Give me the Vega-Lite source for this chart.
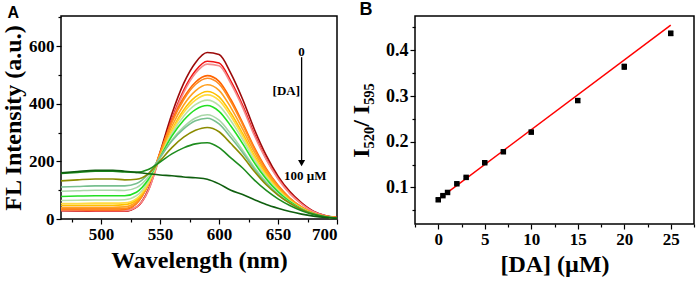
{
  "$schema": "https://vega.github.io/schema/vega-lite/v6.json",
  "padding": {"left": 0, "top": 0, "right": 0, "bottom": 0},
  "background": "white",
  "spacing": 9,
  "config": {
    "view": {"stroke": "black", "strokeWidth": 1.5},
    "text": {"font": "Liberation Serif"},
    "axis": {
      "domain": false, "grid": false,
      "labelFont": "Liberation Serif", "labelFontWeight": "bold", "labelFontSize": 17, "labelColor": "black",
      "tickColor": "black", "tickSize": 5, "tickWidth": 1.2, "labelPadding": 2,
      "titleFont": "Liberation Serif", "titleFontWeight": "bold", "titleFontSize": 24, "titleColor": "black"
    }
  },
  "datasets": {
    "spec": [
      {"w":465,"c1":29,"c2":30,"c3":30,"c4":32,"c5":35,"c6":41,"c7":48,"c8":54,"c9":64,"c10":78,"c11":96,"c12":111,"c13":132,"c14":158,"c15":160},
      {"w":480,"c1":28,"c2":29,"c3":30,"c4":32,"c5":35,"c6":41,"c7":48,"c8":54,"c9":65,"c10":80,"c11":98,"c12":113,"c13":136,"c14":162,"c15":165},
      {"w":495,"c1":27,"c2":28,"c3":29,"c4":31,"c5":35,"c6":41,"c7":48,"c8":55,"c9":66,"c10":81,"c11":100,"c12":115,"c13":139,"c14":166,"c15":169},
      {"w":510,"c1":27,"c2":28,"c3":29,"c4":31,"c5":35,"c6":41,"c7":48,"c8":55,"c9":66,"c10":81,"c11":100,"c12":115,"c13":139,"c14":166,"c15":169},
      {"w":520,"c1":27,"c2":28,"c3":29,"c4":33,"c5":36,"c6":42,"c7":50,"c8":56,"c9":67,"c10":81,"c11":99,"c12":115,"c13":136,"c14":163,"c15":166},
      {"w":530,"c1":41,"c2":41,"c3":42,"c4":53,"c5":55,"c6":60,"c7":66,"c8":71,"c9":81,"c10":93,"c11":109,"c12":123,"c13":138,"c14":162,"c15":162},
      {"w":540,"c1":102,"c2":99,"c3":98,"c4":119,"c5":120,"c6":120,"c7":122,"c8":124,"c9":130,"c10":137,"c11":146,"c12":156,"c13":157,"c14":172,"c15":157},
      {"w":550,"c1":232,"c2":222,"c3":219,"c4":231,"c5":229,"c6":223,"c7":217,"c8":216,"c9":214,"c10":214,"c11":211,"c12":215,"c13":202,"c14":198,"c15":153},
      {"w":560,"c1":365,"c2":347,"c3":341,"c4":339,"c5":335,"c6":322,"c7":309,"c8":304,"c9":296,"c10":288,"c11":274,"c12":271,"c13":248,"c14":226,"c15":150},
      {"w":570,"c1":471,"c2":447,"c3":439,"c4":421,"c5":414,"c6":396,"c7":379,"c8":370,"c9":357,"c10":343,"c11":320,"c12":313,"c13":284,"c14":247,"c15":146},
      {"w":580,"c1":543,"c2":515,"c3":506,"c4":475,"c5":467,"c6":445,"c7":424,"c8":413,"c9":397,"c10":380,"c11":351,"c12":341,"c13":308,"c14":261,"c15":143},
      {"w":590,"c1":578,"c2":548,"c3":538,"c4":498,"c5":489,"c6":466,"c7":443,"c8":431,"c9":413,"c10":394,"c11":362,"c12":350,"c13":318,"c14":265,"c15":138},
      {"w":600,"c1":571,"c2":542,"c3":532,"c4":478,"c5":469,"c6":447,"c7":424,"c8":412,"c9":394,"c10":374,"c11":343,"c12":330,"c13":303,"c14":248,"c15":122},
      {"w":610,"c1":506,"c2":479,"c3":470,"c4":415,"c5":407,"c6":387,"c7":368,"c8":357,"c9":341,"c10":323,"c11":295,"c12":283,"c13":262,"c14":212,"c15":100},
      {"w":620,"c1":416,"c2":395,"c3":387,"c4":334,"c5":328,"c6":312,"c7":297,"c8":288,"c9":276,"c10":262,"c11":239,"c12":231,"c13":218,"c14":177,"c15":85},
      {"w":630,"c1":311,"c2":295,"c3":289,"c4":248,"c5":243,"c6":232,"c7":220,"c8":214,"c9":205,"c10":195,"c11":179,"c12":173,"c13":165,"c14":135,"c15":67},
      {"w":640,"c1":221,"c2":209,"c3":206,"c4":175,"c5":171,"c6":163,"c7":156,"c8":151,"c9":145,"c10":139,"c11":128,"c12":124,"c13":119,"c14":99,"c15":50},
      {"w":650,"c1":149,"c2":142,"c3":139,"c4":117,"c5":115,"c6":110,"c7":105,"c8":102,"c9":98,"c10":94,"c11":87,"c12":85,"c13":83,"c14":70,"c15":37},
      {"w":660,"c1":95,"c2":90,"c3":88,"c4":73,"c5":72,"c6":69,"c7":66,"c8":64,"c9":62,"c10":60,"c11":56,"c12":55,"c13":55,"c14":47,"c15":26},
      {"w":670,"c1":56,"c2":53,"c3":52,"c4":42,"c5":41,"c6":40,"c7":38,"c8":37,"c9":36,"c10":35,"c11":33,"c12":33,"c13":33,"c14":29,"c15":17},
      {"w":680,"c1":27,"c2":25,"c3":25,"c4":20,"c5":20,"c6":19,"c7":19,"c8":18,"c9":18,"c10":18,"c11":17,"c12":17,"c13":17,"c14":16,"c15":10},
      {"w":690,"c1":12,"c2":11,"c3":11,"c4":9,"c5":9,"c6":9,"c7":8,"c8":8,"c9":8,"c10":8,"c11":8,"c12":8,"c13":8,"c14":8,"c15":5},
      {"w":700,"c1":5,"c2":5,"c3":4,"c4":4,"c5":4,"c6":4,"c7":3,"c8":3,"c9":3,"c10":3,"c11":3,"c12":3,"c13":3,"c14":3,"c15":2}
    ],
    "cal": [
      {"c":0,"r":0.073,"e":0.003},
      {"c":0.5,"r":0.082,"e":0.002},
      {"c":1,"r":0.089,"e":0.002},
      {"c":2,"r":0.108,"e":0.002},
      {"c":3,"r":0.122,"e":0.002},
      {"c":5,"r":0.154,"e":0.002},
      {"c":7,"r":0.178,"e":0.003},
      {"c":10,"r":0.221,"e":0.004},
      {"c":15,"r":0.290,"e":0.004},
      {"c":20,"r":0.364,"e":0.006},
      {"c":25,"r":0.437,"e":0.005}
    ],
    "fit": [
      {"c":0,"r":0.074},
      {"c":25,"r":0.455}
    ],
    "one": [{}]
  },
  "hconcat": [
    {
      "width": 276, "height": 203,
      "title": {"text": "A", "font": "Liberation Sans", "fontSize": 16, "fontWeight": "bold", "color": "black", "anchor": "start", "frame": "bounds", "offset": -5, "dx": 6},
      "layer": [
        {
          "data": {"name": "spec"},
          "transform": [{"fold": ["c1","c2","c3","c4","c5","c6","c7","c8","c9","c10","c11","c12","c13","c14","c15"], "as": ["k","v"]}],
          "mark": {"type": "line", "clip": true, "strokeWidth": 1.6, "interpolate": "monotone"},
          "encoding": {
            "x": {"field": "w", "type": "quantitative", "scale": {"domain": [466, 700], "nice": false, "zero": false},
                  "axis": {"values": [500, 550, 600, 650, 700], "title": "Wavelength (nm)", "titlePadding": 6,
                           "labelFont": "Liberation Serif", "labelFontWeight": "bold", "labelFontSize": 17}},
            "y": {"field": "v", "type": "quantitative", "scale": {"domain": [0, 705], "nice": false},
                  "axis": {"values": [0, 200, 400, 600], "title": "FL Intensity (a.u.)", "titlePadding": 3,
                           "labelFont": "Liberation Serif", "labelFontWeight": "bold", "labelFontSize": 17}},
            "color": {"field": "k", "type": "nominal", "legend": null,
                      "scale": {"domain": ["c1","c2","c3","c4","c5","c6","c7","c8","c9","c10","c11","c12","c13","c14","c15"],
                                "range": ["#9b0a0a","#f01414","#f58c8c","#ff6400","#ff8a20","#ffa020","#ffc000","#ffdc40","#b8e0a8","#22e022","#a8d8a8","#78c090","#8c8c00","#1e8c1e","#0f5f0f"]}}
          }
        },
        {
          "data": {"name": "one"},
          "mark": {"type": "rule", "color": "black", "strokeWidth": 1.3},
          "encoding": {
            "x": {"datum": 670, "type": "quantitative",
                  "axis": {"orient": "bottom", "values": [475, 525, 575, 625, 675], "labels": false, "title": null, "tickSize": 3}},
            "y": {"datum": 562, "type": "quantitative",
                  "axis": {"orient": "left", "values": [100, 300, 500, 700], "labels": false, "title": null, "tickSize": 3}},
            "y2": {"datum": 200}
          }
        },
        {
          "data": {"name": "one"},
          "mark": {"type": "point", "shape": "triangle-down", "filled": true, "color": "black", "size": 50, "opacity": 1},
          "encoding": {
            "x": {"datum": 670, "type": "quantitative", "axis": null},
            "y": {"datum": 194, "type": "quantitative", "axis": null}
          }
        },
        {
          "data": {"name": "one"},
          "mark": {"type": "text", "text": "0", "font": "Liberation Serif", "fontWeight": "bold", "fontSize": 13, "color": "black", "baseline": "middle"},
          "encoding": {
            "x": {"datum": 670, "type": "quantitative", "axis": null},
            "y": {"datum": 580, "type": "quantitative", "axis": null}
          }
        },
        {
          "data": {"name": "one"},
          "mark": {"type": "text", "text": "[DA]", "font": "Liberation Serif", "fontWeight": "bold", "fontSize": 13, "color": "black", "baseline": "middle"},
          "encoding": {
            "x": {"datum": 657, "type": "quantitative", "axis": null},
            "y": {"datum": 445, "type": "quantitative", "axis": null}
          }
        },
        {
          "data": {"name": "one"},
          "mark": {"type": "text", "text": "100 µM", "font": "Liberation Serif", "fontWeight": "bold", "fontSize": 13, "color": "black", "baseline": "middle"},
          "encoding": {
            "x": {"datum": 673, "type": "quantitative", "axis": null},
            "y": {"datum": 150, "type": "quantitative", "axis": null}
          }
        }
      ],
      "resolve": {"axis": {"x": "independent", "y": "independent"}}
    },
    {
      "width": 279, "height": 208,
      "title": {"text": "B", "font": "Liberation Sans", "fontSize": 18, "fontWeight": "bold", "color": "black", "anchor": "start", "frame": "bounds", "offset": -3, "dx": 10},
      "layer": [
        {
          "data": {"name": "fit"},
          "mark": {"type": "line", "color": "#ff0000", "strokeWidth": 1.5},
          "encoding": {
            "x": {"field": "c", "type": "quantitative", "scale": {"domain": [-2.5, 27.5], "nice": false, "zero": false},
                  "axis": {"values": [0, 5, 10, 15, 20, 25], "title": "[DA] (µM)", "titlePadding": 5,
                           "labelFont": "Liberation Serif", "labelFontWeight": "bold", "labelFontSize": 17}},
            "y": {"field": "r", "type": "quantitative", "scale": {"domain": [0.02, 0.475], "nice": false, "zero": false},
                  "axis": {"values": [0.1, 0.2, 0.3, 0.4], "format": ".1f", "title": "I₅₂₀/ I₅₉₅", "titlePadding": 12,
                           "labelFont": "Liberation Serif", "labelFontWeight": "bold", "labelFontSize": 18}}
          }
        },
        {
          "data": {"name": "cal"},
          "mark": {"type": "errorbar", "ticks": true, "color": "black"},
          "encoding": {
            "x": {"field": "c", "type": "quantitative", "axis": null},
            "y": {"field": "r", "type": "quantitative", "axis": null},
            "yError": {"field": "e"}
          }
        },
        {
          "data": {"name": "cal"},
          "mark": {"type": "point", "shape": "square", "filled": true, "color": "black", "size": 30, "opacity": 1},
          "encoding": {
            "x": {"field": "c", "type": "quantitative",
                  "axis": {"orient": "bottom", "values": [-2.5, 2.5, 7.5, 12.5, 17.5, 22.5, 27.5], "labels": false, "title": null, "tickSize": 3}},
            "y": {"field": "r", "type": "quantitative",
                  "axis": {"orient": "left", "values": [0.05, 0.15, 0.25, 0.35, 0.45], "labels": false, "title": null, "tickSize": 3}}
          }
        }
      ],
      "resolve": {"axis": {"x": "independent", "y": "independent"}}
    }
  ]
}
